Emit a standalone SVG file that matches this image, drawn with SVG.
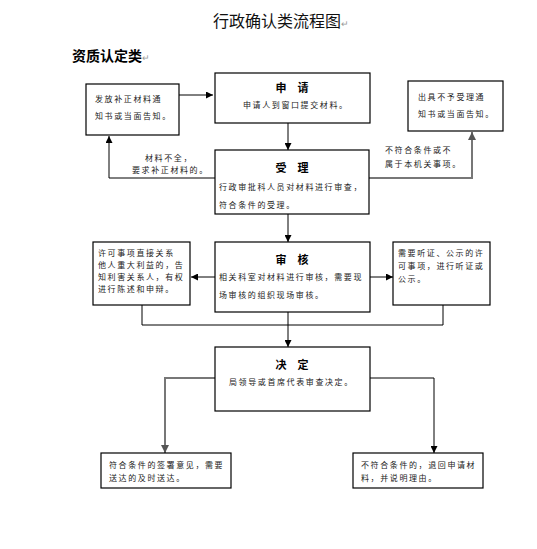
<svg xmlns="http://www.w3.org/2000/svg" width="537" height="549" viewBox="0 0 537 549">
<style>
.box{fill:#fff;stroke:#000;stroke-width:1.2}
.ln{fill:none;stroke:#000;stroke-width:1}
.gl{fill:none;stroke:#777;stroke-width:2}
.t{font-family:"Noto Sans CJK SC","Noto Sans",sans-serif;font-size:8px;letter-spacing:1.6px;fill:#222}
.h{font-family:"Noto Sans CJK SC","Noto Sans",sans-serif;font-size:11px;font-weight:bold;fill:#000;text-anchor:middle}
.pm{fill:#999}
</style>
<defs>
<marker id="a" viewBox="0 0 10 10" refX="10" refY="5" markerWidth="7" markerHeight="7" orient="auto" markerUnits="userSpaceOnUse"><path d="M0,0L10,5L0,10z" fill="#000"/></marker>
<marker id="g" viewBox="0 0 10 10" refX="10" refY="5" markerWidth="8" markerHeight="8" orient="auto" markerUnits="userSpaceOnUse"><path d="M0,0L10,5L0,10z" fill="#555"/></marker>
</defs>
<rect width="537" height="549" fill="#fff"/>
<text x="213" y="27" style="font-family:'Noto Sans CJK SC',sans-serif;font-size:16px;fill:#111">行政确认类流程图<tspan class="pm" font-size="9">↵</tspan></text>
<text x="72" y="61" style="font-family:'Noto Sans CJK SC',sans-serif;font-size:14px;font-weight:bold;fill:#000">资质认定类<tspan class="pm" font-size="9" font-weight="normal">↵</tspan></text>
<g id="connectors">
<path class="ln" d="M179,95H213" marker-end="url(#a)"/>
<path class="ln" d="M288,123V150" marker-end="url(#a)"/>
<path class="ln" d="M215,178H109V136" marker-end="url(#a)"/>
<path class="gl" d="M369,178H472V132" marker-end="url(#g)"/>
<path class="ln" d="M288,214V242" marker-end="url(#a)"/>
<path class="ln" d="M215,277H191" marker-end="url(#a)"/>
<path class="ln" d="M370,277H393" marker-end="url(#a)"/>
<path class="ln" d="M288,312V325M142,305V325H443V305"/>
<path class="ln" d="M288,325V347" marker-end="url(#a)"/>
<path class="gl" d="M215,378H165V453" marker-end="url(#g)"/>
<path class="ln" d="M370,378H434V453" marker-end="url(#a)"/>
</g>
<g id="label-incomplete">
<text class="t" x="145" y="161">材料不全，</text>
<text class="t" x="132" y="173">要求补正材料的。</text>
</g>
<g id="label-reject">
<text class="t" x="385" y="153">不符合条件或不</text>
<text class="t" x="385" y="167">属于本机关事项。</text>
</g>
<g id="n-buzheng">
<rect class="box" x="86" y="84" width="93" height="51"/>
<text class="t" x="95" y="102">发放补正材料通</text>
<text class="t" x="95" y="119">知书或当面告知。</text>
</g>
<g id="n-shenqing">
<rect class="box" x="215" y="73" width="155" height="50"/>
<text class="h" x="292" y="92">申　请</text>
<text class="t" x="243" y="108">申请人到窗口提交材料。</text>
</g>
<g id="n-buyu">
<rect class="box" x="408" y="81" width="95" height="50"/>
<text class="t" x="418" y="100">出具不予受理通</text>
<text class="t" x="418" y="117">知书或当面告知。</text>
</g>
<g id="n-shouli">
<rect class="box" x="215" y="150" width="154" height="64"/>
<text class="h" x="292" y="172">受　理</text>
<text class="t" x="219" y="190">行政审批科人员对材料进行审查，</text>
<text class="t" x="219" y="208">符合条件的受理。</text>
</g>
<g id="n-gaozhi">
<rect class="box" x="93" y="242" width="97" height="63"/>
<text class="t" x="98" y="256">许可事项直接关系</text>
<text class="t" x="98" y="268">他人重大利益的，告</text>
<text class="t" x="98" y="280">知利害关系人，有权</text>
<text class="t" x="98" y="292">进行陈述和申辩。</text>
</g>
<g id="n-shenhe">
<rect class="box" x="215" y="242" width="155" height="70"/>
<text class="h" x="292" y="264">审　核</text>
<text class="t" x="219" y="280">相关科室对材料进行审核，需要现</text>
<text class="t" x="219" y="298">场审核的组织现场审核。</text>
</g>
<g id="n-tingzheng">
<rect class="box" x="393" y="242" width="97" height="63"/>
<text class="t" x="398" y="256">需要听证、公示的许</text>
<text class="t" x="398" y="269">可事项，进行听证或</text>
<text class="t" x="398" y="282">公示。</text>
</g>
<g id="n-jueding">
<rect class="box" x="215" y="347" width="155" height="64"/>
<text class="h" x="292" y="369">决　定</text>
<text class="t" x="229" y="385">局领导或首席代表审查决定。</text>
</g>
<g id="n-fuhe">
<rect class="box" x="101" y="453" width="130" height="35"/>
<text class="t" x="109" y="468">符合条件的签署意见，需要</text>
<text class="t" x="109" y="481">送达的及时送达。</text>
</g>
<g id="n-bufuhe">
<rect class="box" x="353" y="453" width="130" height="35"/>
<text class="t" x="361" y="468">不符合条件的，退回申请材</text>
<text class="t" x="361" y="481">料，并说明理由。</text>
</g>
</svg>
